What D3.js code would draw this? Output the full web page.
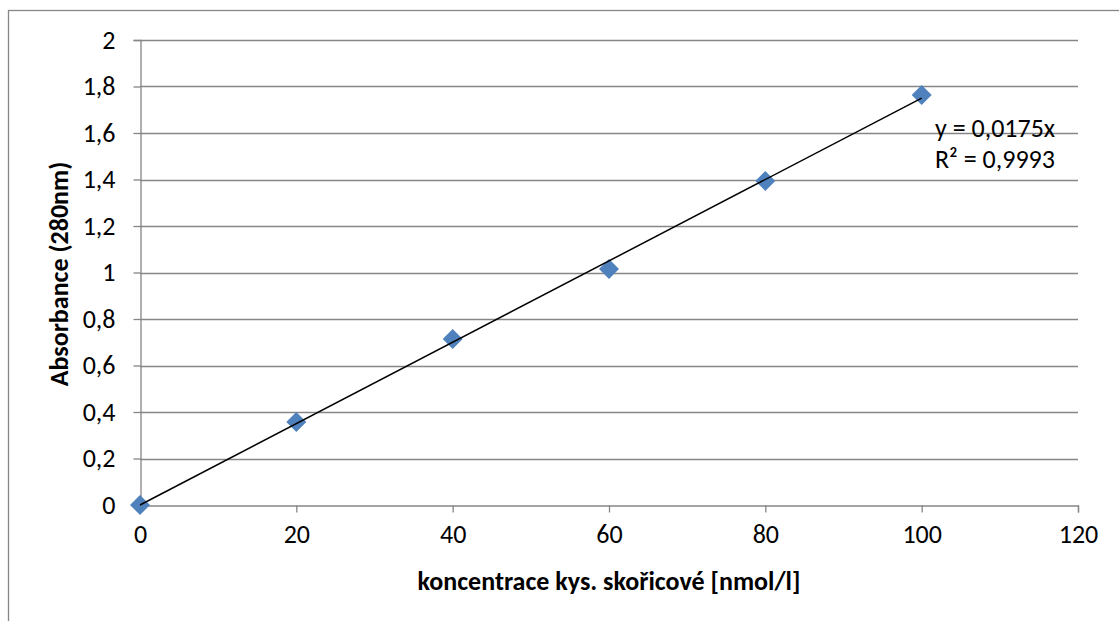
<!DOCTYPE html>
<html>
<head>
<meta charset="utf-8">
<script src="https://cdn.jsdelivr.net/npm/d3@7"></script>
<style>
  html, body { margin: 0; padding: 0; background: #fff; }
  svg { display: block; }
  text { font-family: Carlito, "Open Sans", "Liberation Sans", sans-serif; fill: #000; }
</style>
</head>
<body>
<svg id="chart" width="1119" height="621"></svg>
<script>
// Calibration data: concentration vs. absorbance at 280 nm
const concentrations = [0, 20, 40, 60, 80, 100];
const absorbances = [0, 0.357, 0.714, 1.015, 1.394, 1.763];
const xTicks = [0, 20, 40, 60, 80, 100, 120];
const yTicks = [0, 0.2, 0.4, 0.6, 0.8, 1, 1.2, 1.4, 1.6, 1.8, 2];
const slope = 0.0175;
const rSquared = "0,9993";

const svg = d3.select("#chart");
const fmt = v => String(v).replace(".", ",");
const FONT = 'Carlito, "Open Sans", "Liberation Sans", sans-serif';
const FS = 26;

// outer chart frame
svg.append("rect")
  .attr("x", 8.5).attr("y", 10.5)
  .attr("width", 1130).attr("height", 640)
  .attr("fill", "none").attr("stroke", "#868686").attr("stroke-width", 1.3);

const x = d3.scaleLinear().domain([0, 120]).range([140, 1078]);
const y = d3.scaleLinear().domain([0, 2]).range([505, 40]);
const gridColor = "#868686";

// horizontal gridlines
svg.append("g").selectAll("line")
  .data(yTicks.filter(d => d > 0))
  .join("line")
  .attr("x1", x(0)).attr("x2", x(120))
  .attr("y1", d => Math.round(y(d)) + 0.5).attr("y2", d => Math.round(y(d)) + 0.5)
  .attr("stroke", gridColor).attr("stroke-width", 1.3);

// y axis
const yAxis = svg.append("g")
  .attr("transform", `translate(${x(0) + 0.5},0)`)
  .call(d3.axisLeft(y).tickValues(yTicks).tickFormat(fmt).tickSize(7).tickPadding(18));
yAxis.attr("font-size", null).attr("font-family", null);
yAxis.select(".domain").attr("stroke", gridColor).attr("stroke-width", 1.3);
yAxis.selectAll(".tick line").attr("stroke", gridColor).attr("stroke-width", 1.3);
yAxis.selectAll(".tick text").style("font-size", FS + "px").style("font-family", FONT).attr("fill", "#000");

// x axis
const xAxis = svg.append("g")
  .attr("transform", `translate(0,${Math.round(y(0)) + 0.5})`)
  .call(d3.axisBottom(x).tickValues(xTicks).tickSize(7).tickPadding(12));
xAxis.attr("font-size", null).attr("font-family", null);
xAxis.select(".domain").attr("stroke", gridColor).attr("stroke-width", 1.3);
xAxis.selectAll(".tick line").attr("stroke", gridColor).attr("stroke-width", 1.3);
xAxis.selectAll(".tick text").style("font-size", FS + "px").style("font-family", FONT).attr("fill", "#000");

// diamond markers
const diamond = d3.symbol().type(d3.symbolSquare).size(200);
svg.append("g").selectAll("path")
  .data(concentrations.map((c, i) => [c, absorbances[i]]))
  .join("path")
  .attr("d", diamond)
  .attr("transform", d => `translate(${x(d[0])},${y(d[1])}) rotate(45)`)
  .attr("fill", "#4F81BD");

// linear trendline through origin, drawn over the markers
const trend = [0, 100];
svg.append("path")
  .attr("d", d3.line().x(d => x(d)).y(d => y(slope * d))(trend))
  .attr("stroke", "#000").attr("stroke-width", 1.5).attr("fill", "none");

// trendline equation
svg.append("text").attr("x", 935).attr("y", 137).style("font-size", FS + "px")
  .text("y = " + fmt(slope) + "x");
svg.append("text").attr("x", 935).attr("y", 168).style("font-size", FS + "px")
  .text("R² = " + rSquared);

// axis titles
svg.append("text")
  .attr("x", 609).attr("y", 590)
  .attr("text-anchor", "middle").style("font-size", FS + "px").attr("font-weight", "bold")
  .text("koncentrace kys. skořicové [nmol/l]");
svg.append("text")
  .attr("transform", "translate(68,274) rotate(-90)")
  .attr("text-anchor", "middle").style("font-size", FS + "px").attr("font-weight", "bold")
  .text("Absorbance (280nm)");
</script>
</body>
</html>
